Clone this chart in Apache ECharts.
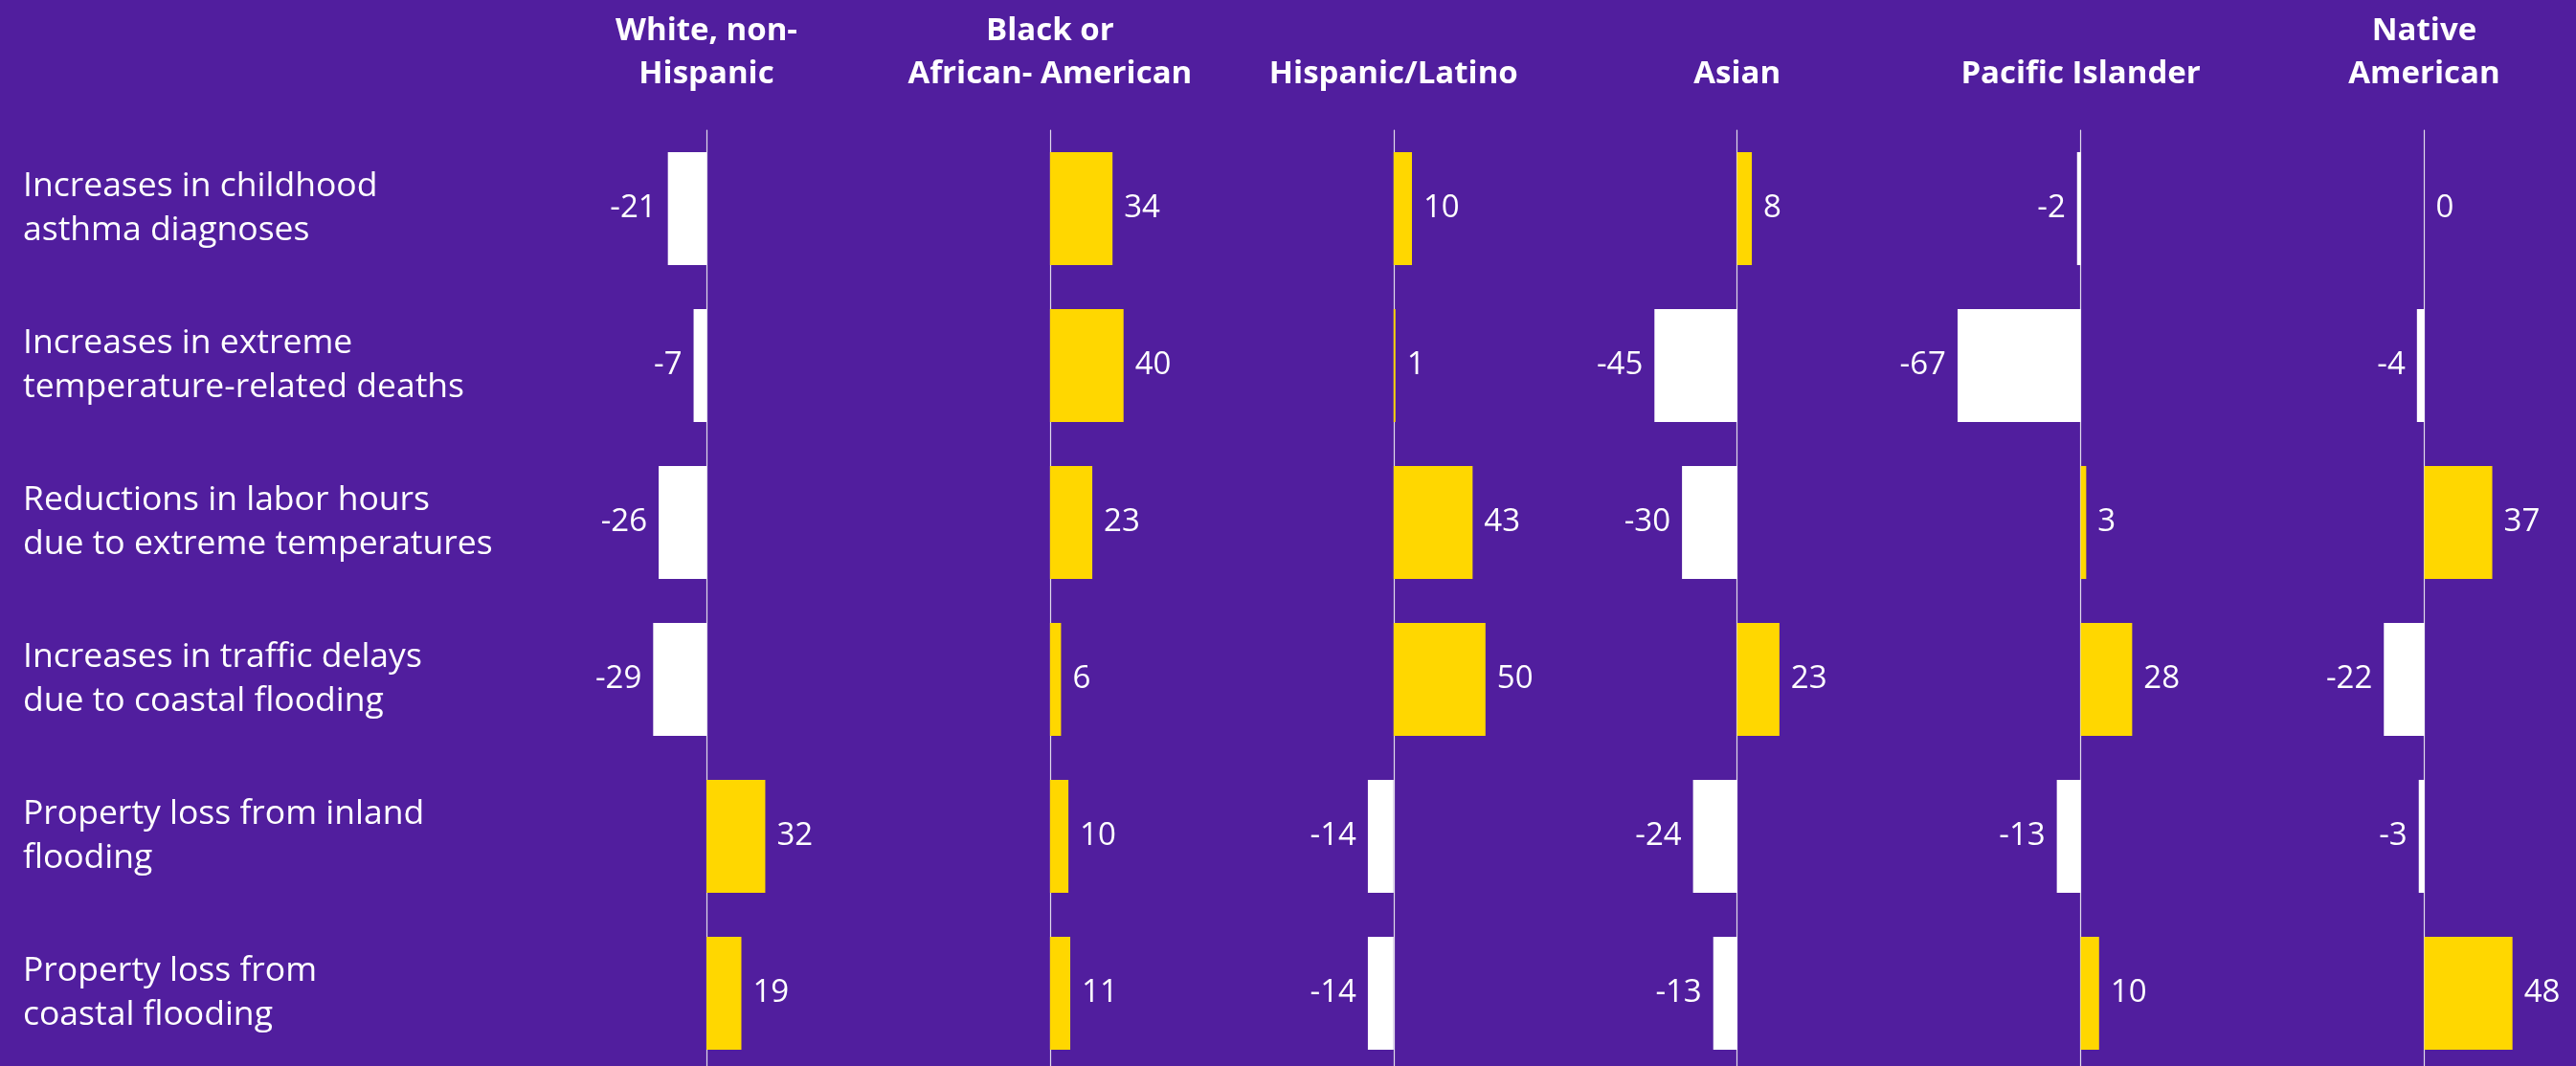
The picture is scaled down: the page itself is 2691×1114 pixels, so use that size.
<!DOCTYPE html>
<html>
<head>
<meta charset="utf-8">
<script src="https://cdn.jsdelivr.net/npm/echarts@6/dist/echarts.min.js"></script>
<style>
  html, body { margin: 0; padding: 0; background: #511E9E; }
  #chart { width: 2691px; height: 1114px; }
</style>
</head>
<body>
<div id="chart"></div>
<script>
// Climate impacts (rows) and the population groups (panels)
const impacts = [
  'Increases in childhood\nasthma diagnoses',
  'Increases in extreme\ntemperature-related deaths',
  'Reductions in labor hours\ndue to extreme temperatures',
  'Increases in traffic delays\ndue to coastal flooding',
  'Property loss from inland\nflooding',
  'Property loss from\ncoastal flooding'
];
const groups = [
  'White, non-\nHispanic',
  'Black or\nAfrican- American',
  'Hispanic/Latino',
  'Asian',
  'Pacific Islander',
  'Native\nAmerican'
];

// Values per group, in the same order as impacts
const whiteNonHispanic = [-21, -7, -26, -29, 32, 19];
const blackAfricanAmerican = [34, 40, 23, 6, 10, 11];
const hispanicLatino = [10, 1, 43, 50, -14, -14];
const asian = [8, -45, -30, 23, -24, -13];
const pacificIslander = [-2, -67, 3, 28, -13, 10];
const nativeAmerican = [0, -4, 37, -22, -3, 48];

const groupValues = [whiteNonHispanic, blackAfricanAmerican, hispanicLatino, asian, pacificIslander, nativeAmerican];

// Panel layout
const FIRST_ZERO = 738;
const PANEL_STEP = 358.9;
const HALF_WIDTH = 192;   // pixels for 100 units on each side of zero
const TOP = 136;
const BG = '#511E9E';
const POS = '#FFD700';
const NEG = '#FFFFFF';
const FONT = '"Open Sans"';

const grids = [], xAxes = [], yAxes = [], series = [];

groups.forEach((name, i) => {
  const left = FIRST_ZERO + PANEL_STEP * i - HALF_WIDTH;
  grids.push({
    left: left, width: HALF_WIDTH * 2, top: TOP, bottom: -6,
    containLabel: false, outerBoundsMode: 'none'
  });
  xAxes.push({
    gridIndex: i, type: 'value', min: -100, max: 100, position: 'top',
    axisLine: { show: false }, axisTick: { show: false }, axisLabel: { show: false },
    splitLine: { show: false },
    name: name, nameLocation: 'middle', nameGap: 36,
    nameTextStyle: {
      color: '#fff', fontFamily: FONT, fontWeight: 'bold', fontSize: 33,
      lineHeight: 45, align: 'center', verticalAlign: 'bottom'
    }
  });
  yAxes.push({
    gridIndex: i, type: 'category', data: impacts, inverse: true,
    axisLine: { show: true, onZero: true, lineStyle: { color: '#e0dbea', width: 1.2 } },
    axisTick: { show: false },
    axisLabel: i === 0 ? {
      show: true, align: 'left', margin: left - 24,
      color: '#fff', fontFamily: FONT, fontSize: 35.5, lineHeight: 46
    } : { show: false }
  });
  series.push({
    type: 'bar', xAxisIndex: i, yAxisIndex: i,
    barCategoryGap: '28%',
    data: groupValues[i].map(v => ({
      value: v,
      itemStyle: { color: v < 0 ? NEG : POS },
      label: { position: v < 0 ? 'left' : 'right' }
    })),
    label: {
      show: true, distance: 12, color: '#fff', fontFamily: FONT, fontSize: 33
    },
    silent: true
  });
});

const chart = echarts.init(document.getElementById('chart'), null, { renderer: 'canvas' });
chart.setOption({
  backgroundColor: BG,
  animation: false,
  grid: grids,
  xAxis: xAxes,
  yAxis: yAxes,
  series: series
});
</script>
</body>
</html>
